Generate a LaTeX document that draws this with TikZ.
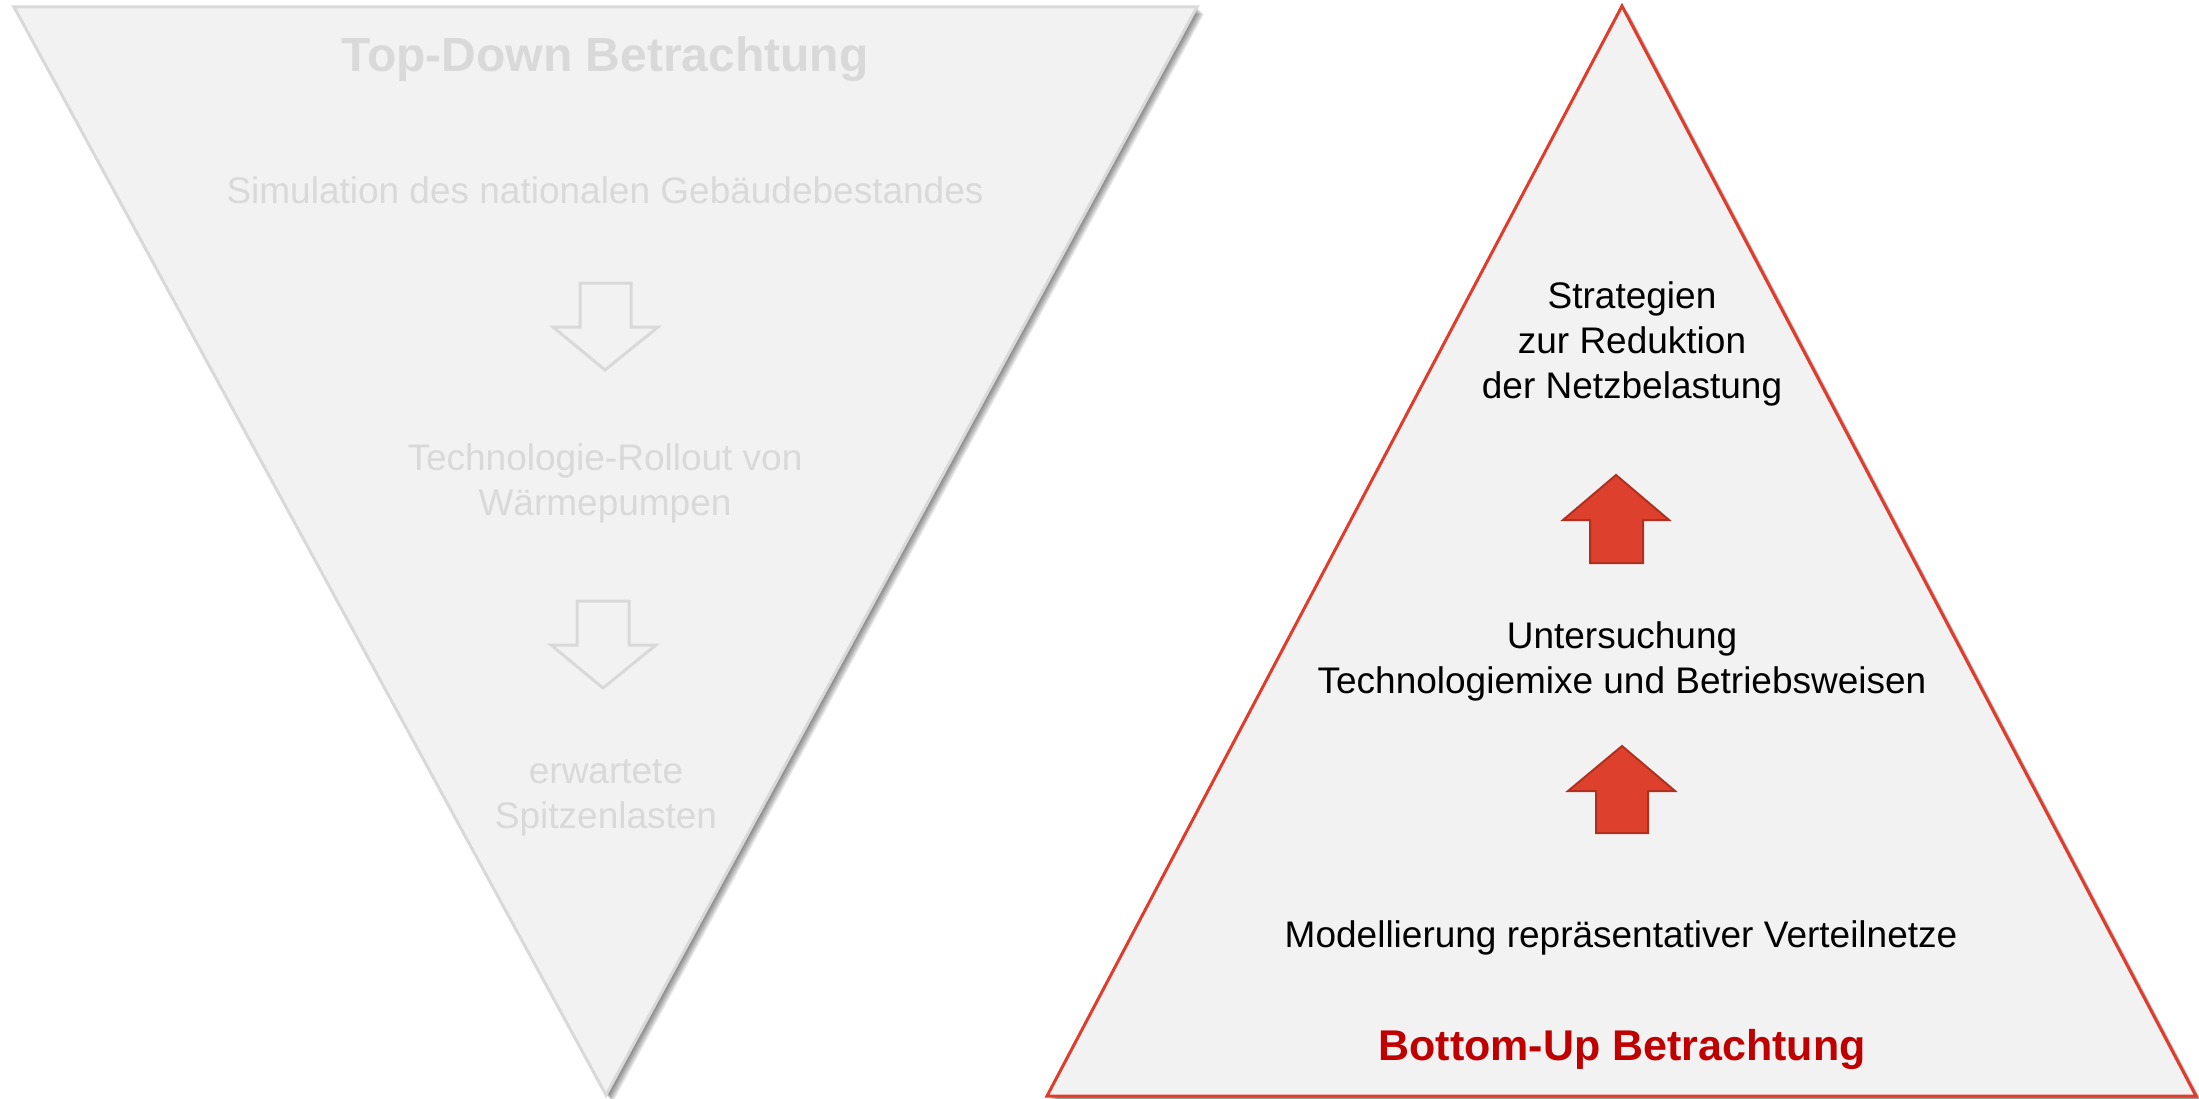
\documentclass[tikz,border=0pt]{standalone}
\usepackage{fontspec}
\setmainfont{Liberation Sans}
\usetikzlibrary{positioning}

\definecolor{panelfill}{HTML}{F2F2F2}
\definecolor{paleline}{HTML}{D9D9D9}
\definecolor{paletext}{HTML}{D9D9D9}
\definecolor{redline}{HTML}{E03C2C}
\definecolor{redfill}{HTML}{DE402E}
\definecolor{rededge}{HTML}{B0301F}
\definecolor{darkred}{HTML}{C00000}

\tikzset{
  panel/.style={fill=panelfill, line width=3pt, line join=miter},
  softshadow/.style={fill=black, fill opacity=0.09, draw=none},
  greyarrow/.style={draw=paleline, line width=3pt, fill=panelfill, line join=miter},
  redarrow/.style={draw=rededge, line width=2pt, fill=redfill, line join=miter},
  % multi-line blocks: the base anchor sits on the baseline of the last line
  bodytext/.style={font=\fontsize{37}{45}\selectfont, align=center, anchor=base, inner sep=0pt},
  titletext/.style={font=\bfseries, anchor=base, inner sep=0pt},
}

\begin{document}
\begin{tikzpicture}[x=1pt, y=-1pt]
\useasboundingbox (0,0) rectangle (2199,1099);
\fill[white] (0,0) rectangle (2199,1099);

% ---------- corner points of the two triangles ----------
\coordinate (tdA) at (14,7);
\coordinate (tdB) at (1197,7);
\coordinate (tdC) at (606,1095);
\coordinate (buA) at (1622,6);
\coordinate (buB) at (2196,1096);
\coordinate (buC) at (1047,1096);

% ---------- soft drop shadows (stacked translucent copies, down-right) ----------
\foreach \d in {1,2,3,4,5,6,7}{
  \fill[softshadow, transform canvas={shift={(\d pt,-\d pt)}}]
    (tdA) -- (tdB) -- (tdC) -- cycle;
  \fill[softshadow, transform canvas={shift={(\d pt,-\d pt)}}]
    (buA) -- (buB) -- (buC) -- cycle;
}

% ---------- inverted triangle: top-down view ----------
\draw[panel, draw=paleline] (tdA) -- (tdB) -- (tdC) -- cycle;

\node[titletext, font=\bfseries\fontsize{48}{58}\selectfont, text=paletext]
  (tdtitle) at (605,72) {Top-Down Betrachtung};
\node[bodytext, text=paletext] (tdsim) at (605,204)
  {Simulation des nationalen Gebäudebestandes};
\node[bodytext, text=paletext] (tdroll) at (605,515)
  {Technologie-Rollout von\\Wärmepumpen};
\node[bodytext, text=paletext] (tdpeak) at (606,828)
  {erwartete\\Spitzenlasten};

% hollow block arrows pointing down
\draw[greyarrow] (580,283) -- (631,283) -- (631,327) -- (658,327)
  -- (605,370) -- (553,327) -- (580,327) -- cycle;
\draw[greyarrow] (577,601) -- (629,601) -- (629,645) -- (656,645)
  -- (603,688) -- (551,645) -- (577,645) -- cycle;

% ---------- upright triangle: bottom-up view ----------
\draw[panel, draw=redline] (buA) -- (buB) -- (buC) -- cycle;

\node[bodytext] (bustrat) at (1632,398)
  {Strategien\\zur Reduktion\\der Netzbelastung};
\node[bodytext] (bumix) at (1622,693)
  {Untersuchung\\Technologiemixe und Betriebsweisen};
\node[bodytext] (bumodel) at (1621,947)
  {Modellierung repräsentativer Verteilnetze};
\node[titletext, font=\bfseries\fontsize{43}{52}\selectfont, text=darkred]
  (butitle) at (1622,1060) {Bottom-Up Betrachtung};

% filled block arrows pointing up
\draw[redarrow] (1590,563) -- (1643,563) -- (1643,520) -- (1669,520)
  -- (1616,475) -- (1563,520) -- (1590,520) -- cycle;
\draw[redarrow] (1596,833) -- (1648,833) -- (1648,791) -- (1675,791)
  -- (1622,746) -- (1568,791) -- (1596,791) -- cycle;
\end{tikzpicture}
\end{document}
